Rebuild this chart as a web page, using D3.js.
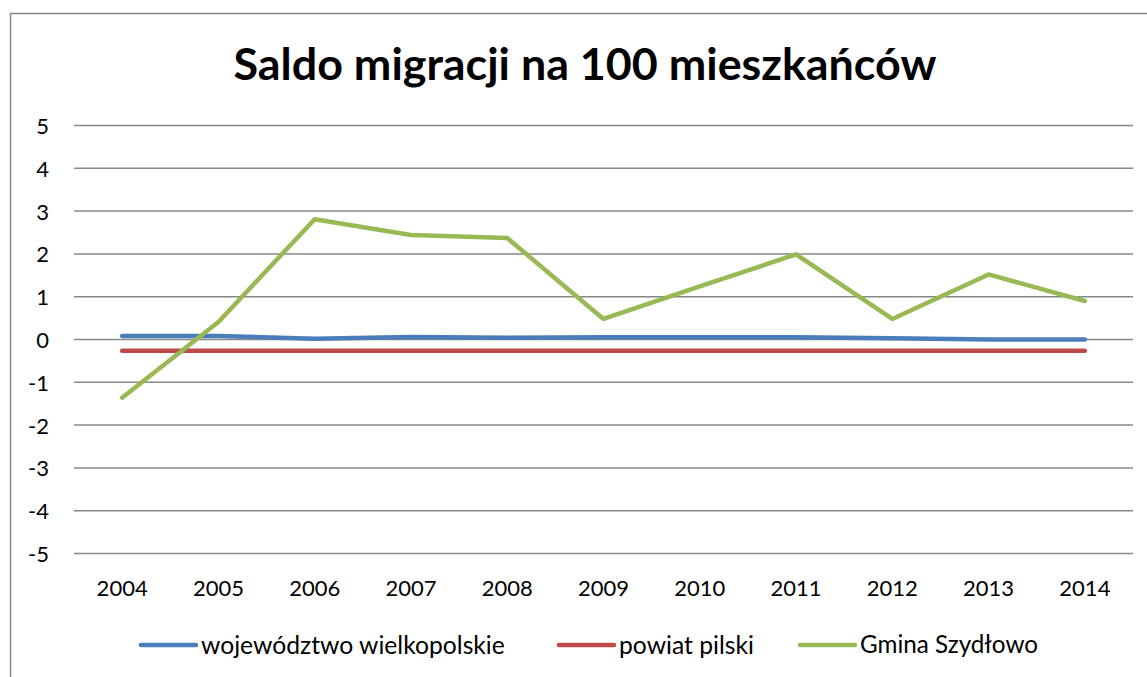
<!DOCTYPE html>
<html><head><meta charset="utf-8">
<script src="https://cdn.jsdelivr.net/npm/d3@7/dist/d3.min.js"></script>
<style>body{margin:0;background:#fff;}svg{display:block;}</style>
</head><body>
<svg id="c" width="1147" height="677"></svg>
<script>
const years = ["2004","2005","2006","2007","2008","2009","2010","2011","2012","2013","2014"];
const wojewodztwo = [0.08,0.08,0.02,0.06,0.04,0.05,0.05,0.05,0.03,0.00,0.00];
const powiat = [-0.26,-0.26,-0.26,-0.26,-0.26,-0.26,-0.26,-0.26,-0.26,-0.26,-0.26];
const gmina = [-1.36,0.41,2.81,2.44,2.37,0.48,1.24,1.99,0.48,1.52,0.90];
const yTicks = [-5,-4,-3,-2,-1,0,1,2,3,4,5];
const seriesNames = ["województwo wielkopolskie","powiat pilski","Gmina Szydłowo"];
const seriesColors = ["#4A7EBB","#BE4B48","#98B954"];
const title = "Saldo migracji na 100 mieszkańców";

const svg = d3.select("#c");
const font = "Lato, 'Open Sans', sans-serif";
// frame
svg.append("rect").attr("x",10.5).attr("y",13.5).attr("width",1147).attr("height",700)
  .attr("fill","#fff").attr("stroke","#878787").attr("stroke-width",1.5);

const pL = 74, pR = 1133, pT = 125.5, pB = 553.5;
const x = d3.scaleBand().domain(years).range([pL,pR]);
const y = d3.scaleLinear().domain([-5,5]).range([pB,pT]);

// gridlines
svg.append("g").selectAll("line").data(yTicks).join("line")
  .attr("x1",pL).attr("x2",pR)
  .attr("y1",d=>y(d)).attr("y2",d=>y(d))
  .attr("stroke","#878787").attr("stroke-width",1.5);

// y axis labels
const yAxis = d3.axisLeft(y).tickValues(yTicks).tickSize(0).tickPadding(0).tickFormat(d3.format("d"));
const ya = svg.append("g").attr("transform","translate(49,0)").call(yAxis);
ya.select(".domain").remove();
ya.selectAll("text").attr("font-family",font).attr("font-size",22).attr("fill","#000")
  .attr("dy","0.36em").text(d=> d<0 ? "-"+Math.abs(d) : d);

// x axis labels
const xAxis = d3.axisBottom(x).tickSize(0).tickPadding(0);
const xa = svg.append("g").attr("transform","translate(0,580)").call(xAxis);
xa.select(".domain").remove();
xa.selectAll("text").attr("font-family",font).attr("font-size",22).attr("fill","#000").attr("dy","0.72em");

// lines
const data = [wojewodztwo, powiat, gmina];
const line = d3.line().x((d,i)=>x(years[i])+x.bandwidth()/2).y(d=>y(d));
svg.append("g").selectAll("path").data(data).join("path")
  .attr("d",d=>line(d)).attr("fill","none")
  .attr("stroke",(d,i)=>seriesColors[i]).attr("stroke-width",4.5)
  .attr("stroke-linecap","round").attr("stroke-linejoin","round");

// title
const t = svg.append("text").attr("x",585).attr("y",80).attr("text-anchor","middle")
  .attr("font-family",font).attr("font-weight","bold").attr("font-size",40).attr("fill","#000").text(title);
const tw = t.node().getComputedTextLength();
t.attr("font-size",40*703/tw);

// legend
const legX = [141,559,800];
const legW = [304,135,178];
const leg = svg.append("g").selectAll("g").data(seriesNames).join("g")
  .attr("transform",(d,i)=>`translate(${legX[i]},645)`);
leg.append("line").attr("x1",0).attr("x2",55).attr("y1",0).attr("y2",0)
  .attr("stroke",(d,i)=>seriesColors[i]).attr("stroke-width",4.5).attr("stroke-linecap","round");
leg.append("text").attr("x",60).attr("dy","0.35em").attr("font-family",font).attr("font-size",22)
  .attr("fill","#000").text(d=>d)
  .each(function(d,i){
    const w = this.getComputedTextLength();
    d3.select(this).attr("font-size",22*legW[i]/w);
  });
</script>
</body></html>
